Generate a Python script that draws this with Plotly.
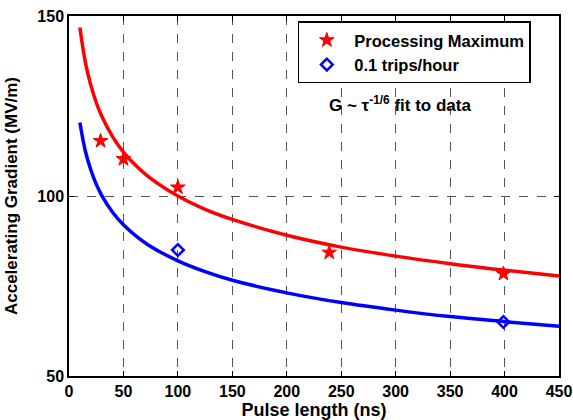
import plotly.graph_objects as go

# Fit curves
fit_x = [10, 15, 20, 25, 30, 40, 50, 60, 75, 100, 125, 150, 200, 250, 300, 350, 400, 450]
fit_red = [146.8, 137.2, 130.8, 126.0, 122.2, 116.5, 112.2, 108.9, 104.9, 100.0,
           96.3, 93.5, 89.1, 85.8, 83.3, 81.2, 79.4, 77.8]
fit_blue = [120.4, 112.5, 107.3, 103.3, 100.2, 95.5, 92.0, 89.3, 86.0, 82.0,
            79.0, 76.6, 73.1, 70.4, 68.3, 66.5, 65.1, 63.8]

# Measured points
proc_x = [29, 50, 100, 239, 399]
proc_y = [115.3, 110.3, 102.4, 84.3, 78.4]
trip_x = [100, 399]
trip_y = [85.0, 65.0]

x_ticks = [0, 50, 100, 150, 200, 250, 300, 350, 400, 450]
y_ticks = [50, 100, 150]

font = dict(family="Liberation Sans, Arial, sans-serif", color="black")

fig = go.Figure()
fig.add_trace(go.Scatter(x=fit_x, y=fit_red, mode="lines", line=dict(color="#ff0000", width=3.5, shape="spline"),
                         showlegend=False, hoverinfo="skip"))
fig.add_trace(go.Scatter(x=fit_x, y=fit_blue, mode="lines", line=dict(color="#0000ff", width=3.5, shape="spline"),
                         showlegend=False, hoverinfo="skip"))
fig.add_trace(go.Scatter(x=proc_x, y=proc_y, mode="markers", name="<b>Processing Maximum</b>",
                         marker=dict(symbol="star", size=11, color="#ff0000", line=dict(width=1, color="#ff0000"))))
fig.add_trace(go.Scatter(x=trip_x, y=trip_y, mode="markers", name="<b>0.1 trips/hour</b>",
                         marker=dict(symbol="diamond-open", size=9, color="#0000ff", line=dict(width=2.5, color="#0000ff"))))

axis_common = dict(showline=True, linecolor="black", linewidth=1.5, mirror="ticks",
                   ticks="inside", ticklen=5, tickcolor="black", automargin=False,
                   showgrid=True, gridcolor="#555555", griddash="dash", gridwidth=1,
                   zeroline=False, tickfont=dict(size=16, **font))

fig.update_xaxes(range=[0, 450], tickvals=x_ticks,
                 ticktext=["<b>%d</b>" % v for v in x_ticks],
                 title=dict(text="<b>Pulse length (ns)</b>", font=dict(size=18, **font)),
                 **axis_common)
fig.update_yaxes(range=[50, 150], tickvals=y_ticks, ticktext=["<b>%d</b>" % v for v in y_ticks],
                 title=dict(text="<b>Accelerating Gradient (MV/m)</b>", font=dict(size=17, **font)),
                 **axis_common)

fig.add_annotation(xref="paper", yref="paper", x=0.675, y=0.755, xanchor="center", yanchor="middle",
                   showarrow=False,
                   text="<b>G ~ τ<sup>-1/6</sup> fit to data</b>", font=dict(size=17, **font))

fig.update_layout(
    width=573, height=420, margin=dict(l=69, r=14, t=16, b=44),
    plot_bgcolor="white", paper_bgcolor="white",
    legend=dict(x=0.467, y=0.985, xanchor="left", yanchor="top", bgcolor="white",
                bordercolor="black", borderwidth=1.5, font=dict(size=16.5, **font),
                tracegroupgap=0, itemwidth=45),
    font=font,
)

fig.write_html("out.html")
